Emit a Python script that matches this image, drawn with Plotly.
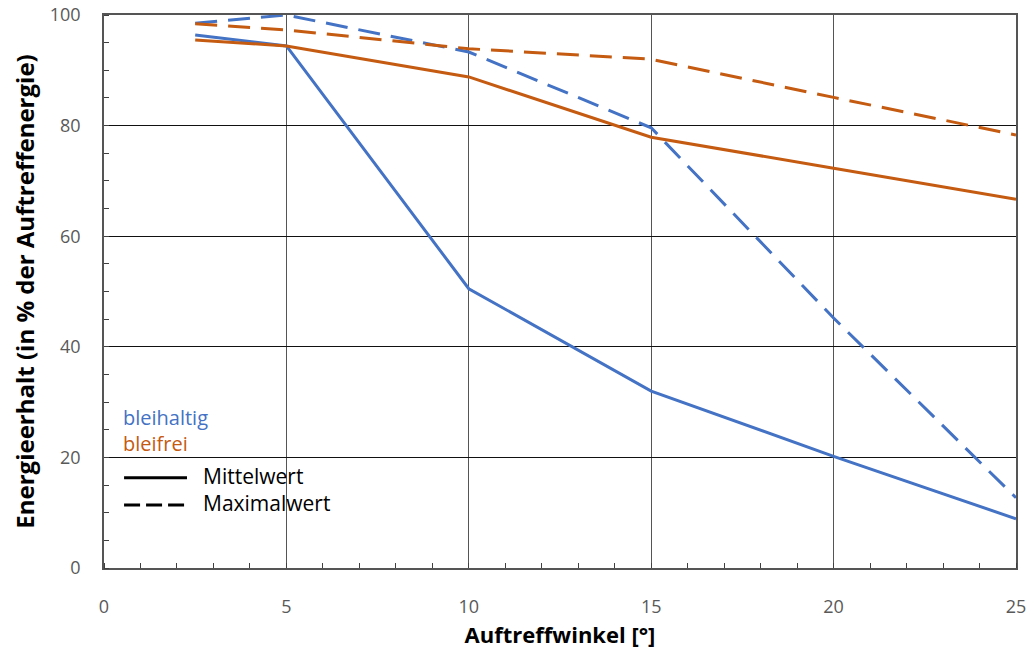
import plotly.graph_objects as go

# Data
winkel = [2.5, 5, 10, 15, 20, 25]
bleihaltig_mittel = [96.4, 94.4, 50.5, 32.0, 20.2, 8.9]
bleihaltig_max = [98.5, 100.0, 93.3, 79.6, 45.2, 12.7]
bleifrei_mittel = [95.5, 94.4, 88.8, 77.9, 72.3, 66.7]
bleifrei_max = [98.4, 97.3, 93.9, 92.0, 85.1, 78.3]

x_ticks = [0, 5, 10, 15, 20, 25]
y_ticks = [0, 20, 40, 60, 80, 100]

BLUE = "#4472C4"
ORANGE = "#C55A11"
FONT = "Open Sans"

fig = go.Figure()
series = [
    (bleihaltig_max, BLUE, "dash"),
    (bleifrei_max, ORANGE, "dash"),
    (bleihaltig_mittel, BLUE, "solid"),
    (bleifrei_mittel, ORANGE, "solid"),
]
for vals, col, dash in series:
    fig.add_trace(go.Scatter(x=winkel, y=vals, mode="lines",
                             line=dict(color=col, width=3, dash="solid" if dash == "solid" else "22px,11px"),
                             showlegend=False))

# Legend made from annotations and shapes
fig.add_annotation(x=0.019, y=0.273, xref="paper", yref="paper", text="bleihaltig", showarrow=False,
                   xanchor="left", yanchor="middle", font=dict(family=FONT, size=20, color=BLUE))
fig.add_annotation(x=0.019, y=0.226, xref="paper", yref="paper", text="bleifrei", showarrow=False,
                   xanchor="left", yanchor="middle", font=dict(family=FONT, size=20, color=ORANGE))
fig.add_shape(type="line", xref="paper", yref="paper", x0=0.022, x1=0.091, y0=0.163, y1=0.163,
              line=dict(color="black", width=3))
fig.add_shape(type="line", xref="paper", yref="paper", x0=0.022, x1=0.091, y0=0.114, y1=0.114,
              line=dict(color="black", width=3, dash="16px,6px"))
fig.add_annotation(x=0.106, y=0.166, xref="paper", yref="paper", text="Mittelwert", showarrow=False,
                   xanchor="left", yanchor="middle", font=dict(family=FONT, size=21, color="black"))
fig.add_annotation(x=0.106, y=0.117, xref="paper", yref="paper", text="Maximalwert", showarrow=False,
                   xanchor="left", yanchor="middle", font=dict(family=FONT, size=21, color="black"))

# The page body has an 8px margin, so the figure is offset; margins compensate.
fig.update_layout(
    width=1036, height=664,
    margin=dict(l=96, r=28, t=7, b=104),
    plot_bgcolor="white", paper_bgcolor="white",
    font=dict(family=FONT, size=18, color="#595959"),
)
fig.update_xaxes(
    range=[0, 25], tickvals=x_ticks, ticktext=[str(v) for v in x_ticks],
    showgrid=True, gridcolor="#555555", gridwidth=1,
    showline=True, linecolor="#555555", linewidth=1.5, mirror=True,
    ticks="", ticklabelstandoff=22, zeroline=False, automargin=False,
    ticklabeloverflow="allow",
    minor=dict(dtick=1, ticks="inside", ticklen=5, tickcolor="#404040", showgrid=False),
    title=dict(text="<b>Auftreffwinkel [°]</b>", font=dict(family=FONT, size=22, color="black"), standoff=10),
)
fig.update_yaxes(
    range=[0, 100], tickvals=y_ticks, ticktext=[str(v) for v in y_ticks],
    showgrid=True, gridcolor="#111111", gridwidth=1,
    showline=True, linecolor="#555555", linewidth=1.5, mirror=True,
    ticks="", ticklabelstandoff=18, zeroline=False, automargin=False,
    ticklabeloverflow="allow",
    minor=dict(dtick=5, ticks="inside", ticklen=5, tickcolor="#404040", showgrid=False),
    title=dict(text="<b>Energieerhalt (in % der Auftreffenergie)</b>", font=dict(family=FONT, size=24, color="black"), standoff=26),
)

fig.write_html("out.html")
